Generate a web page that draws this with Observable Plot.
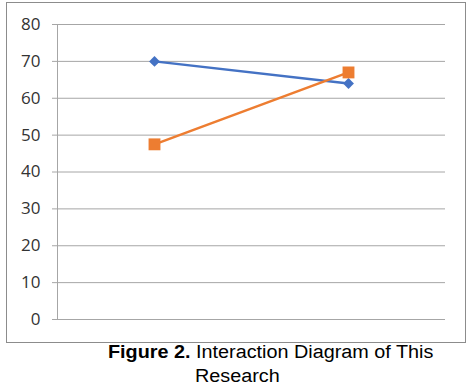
<!DOCTYPE html>
<html>
<head>
<meta charset="utf-8">
<script src="https://cdn.jsdelivr.net/npm/d3@7"></script>
<script src="https://cdn.jsdelivr.net/npm/@observablehq/plot@0.6"></script>
<style>
  html, body { margin: 0; padding: 0; background: #fff; }
  #wrap { position: relative; width: 474px; height: 391px; overflow: hidden; }
  #border { position: absolute; left: 6px; top: 2px; width: 458px; height: 339px; border: 1px solid #8c8c8c; pointer-events: none; }
  .cap { position: absolute; font-family: "Liberation Sans", Arial, sans-serif; font-size: 18px; line-height: 23px; color: #000; white-space: nowrap; transform: scaleX(1.1); transform-origin: left top; }
</style>
</head>
<body>
<div id="wrap">
  <div id="chart"></div>
  <div id="border"></div>
  <div class="cap" id="cap1" style="left:108px; top:341px;"><b>Figure 2.</b> Interaction Diagram of This</div>
  <div class="cap" id="cap2" style="left:195px; top:365px;">Research</div>
</div>
<script>
const categories = ["Level 1", "Level 2"];
const seriesNames = ["Series 1", "Series 2"];
const series1 = [70, 64];
const series2 = [47.5, 67];
const yTicks = [0, 10, 20, 30, 40, 50, 60, 70, 80];

const colors = {"Series 1": "#4472C4", "Series 2": "#ED7D31"};
const data = [];
categories.forEach((c, i) => {
  data.push({cat: c, series: seriesNames[0], value: series1[i]});
  data.push({cat: c, series: seriesNames[1], value: series2[i]});
});
const s1 = data.filter(d => d.series === seriesNames[0]);
const s2 = data.filter(d => d.series === seriesNames[1]);

const chart = Plot.plot({
  width: 474,
  height: 345,
  marginLeft: 57,
  marginRight: 29,
  marginTop: 24,
  marginBottom: 26,
  style: {fontFamily: "'Open Sans', sans-serif", fontSize: "17px", color: "#333333", background: "#fff", overflow: "visible"},
  x: {type: "band", domain: categories, axis: null, padding: 0},
  y: {domain: [0, 80], ticks: yTicks, label: null},
  marks: [
    Plot.ruleY(yTicks, {stroke: "#a6a6a6", strokeWidth: 1}),
    Plot.axisY({ticks: yTicks, tickSize: 5, tickPadding: 12, label: null, stroke: "#a6a6a6", strokeOpacity: 1, fill: "#333333", tickFormat: d => String(d)}),
    Plot.frame({anchor: "left", stroke: "#a6a6a6", strokeOpacity: 1}),
    Plot.line(s1, {x: "cat", y: "value", stroke: colors[seriesNames[0]], strokeWidth: 2.5}),
    Plot.line(s2, {x: "cat", y: "value", stroke: colors[seriesNames[1]], strokeWidth: 2.5}),
    Plot.dot(s1, {x: "cat", y: "value", symbol: "diamond2", r: 4.9, fill: colors[seriesNames[0]], stroke: "none"}),
    Plot.dot(s2, {x: "cat", y: "value", symbol: "square", r: 6.7, fill: colors[seriesNames[1]], stroke: "none"})
  ]
});
document.getElementById("chart").appendChild(chart);
</script>
</body>
</html>
